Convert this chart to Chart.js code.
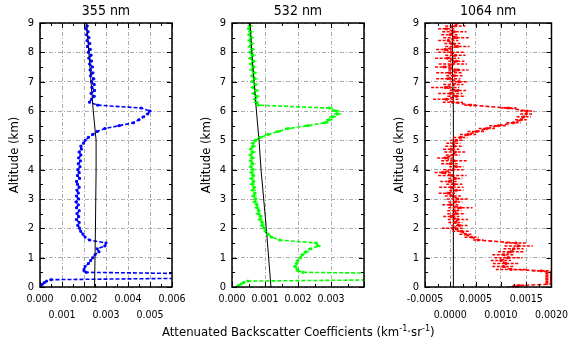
<!DOCTYPE html>
<html lang="en">
<head>
<meta charset="UTF-8">
<title>Attenuated backscatter profiles</title>
<script src="https://cdn.jsdelivr.net/npm/chart.js@4.4.1/dist/chart.umd.min.js"></script>
<style>
  body { margin: 0; background: #fff; }
  #wrap { position: relative; width: 572px; height: 345px; font-family: "DejaVu Sans Condensed", "DejaVu Sans", sans-serif; }
  .panel { position: absolute; top: 0; height: 345px; }
  #xlabel { position: absolute; left: 162px; top: 323px; font-size: 13px; white-space: nowrap; color: #000; }
  #xlabel sup { font-size: 9px; }
</style>
</head>
<body>
<div id="wrap">
  <div class="panel" style="left:0px;width:192px"><canvas id="c355"></canvas></div>
  <div class="panel" style="left:192px;width:192px"><canvas id="c532"></canvas></div>
  <div class="panel" style="left:385px;width:187px"><canvas id="c1064"></canvas></div>
  <div id="xlabel">Attenuated Backscatter Coefficients (km<sup>-1</sup>·sr<sup>-1</sup>)</div>
</div>
<script>
// altitude levels (km)
var altKm = [0, 0.05, 0.1, 0.15, 0.2, 0.25, 0.3, 0.35, 0.4, 0.45, 0.5, 0.55,
  0.6, 0.7, 0.8, 0.9, 1.0, 1.1, 1.2, 1.3, 1.4, 1.5, 1.6, 1.7, 1.8, 1.9,
  2.0, 2.1, 2.2, 2.3, 2.4, 2.5, 2.6, 2.7, 2.8, 2.9, 3.0, 3.1, 3.2, 3.3, 3.4, 3.5, 3.6, 3.7, 3.8, 3.9,
  4.0, 4.1, 4.2, 4.3, 4.4, 4.5, 4.6, 4.7, 4.8, 4.9, 5.0, 5.1, 5.2, 5.3, 5.4, 5.5, 5.6, 5.7, 5.8, 5.9,
  6.0, 6.1, 6.2, 6.3, 6.4, 6.5, 6.6, 6.7, 6.8, 6.9, 7.0, 7.1, 7.2, 7.3, 7.4, 7.5, 7.6, 7.7, 7.8, 7.9,
  8.0, 8.1, 8.2, 8.3, 8.4, 8.5, 8.6, 8.7, 8.8, 8.9, 9.0];

// backscatter, in units of 1e-3 km-1 sr-1
var b355 = [0.00, 0.05, 0.12, 0.20, 0.30, 0.50, 7.00, 7.80, 8.00, 7.50, 2.10, 2.00,
  2.00, 2.05, 2.20, 2.30, 2.40, 2.50, 2.68, 2.60, 2.95, 3.00, 2.25, 2.05, 1.95, 1.85,
  1.80, 1.72, 1.78, 1.66, 1.76, 1.68, 1.78, 1.66, 1.74, 1.64, 1.76, 1.66, 1.74, 1.68, 1.78, 1.70, 1.66, 1.80, 1.70, 1.78,
  1.72, 1.82, 1.74, 1.84, 1.76, 1.86, 1.78, 1.88, 1.86, 1.98, 2.05, 2.20, 2.40, 2.60, 2.95, 3.60, 4.25, 4.50, 4.70, 4.90,
  5.00, 4.60, 2.62, 2.25, 2.34, 2.46, 2.32, 2.48, 2.36, 2.46, 2.34, 2.44, 2.30, 2.40, 2.28, 2.38, 2.26, 2.34, 2.22, 2.32,
  2.20, 2.28, 2.16, 2.26, 2.14, 2.22, 2.12, 2.18, 2.08, 2.14, 2.06];

var b532 = [0.15, 0.20, 0.28, 0.35, 0.48, 5.00, 5.50, 5.80, 6.00, 5.80, 2.15, 2.00,
  1.98, 1.92, 1.96, 2.00, 2.08, 2.14, 2.25, 2.38, 2.62, 2.55, 1.45, 1.20, 1.10, 1.02,
  0.98, 0.92, 0.92, 0.86, 0.88, 0.80, 0.82, 0.76, 0.76, 0.70, 0.72, 0.66, 0.70, 0.64, 0.68, 0.62, 0.66, 0.60, 0.65, 0.60,
  0.64, 0.58, 0.63, 0.58, 0.62, 0.57, 0.64, 0.58, 0.65, 0.64, 0.72, 0.86, 1.10, 1.40, 1.70, 2.30, 2.82, 2.95, 3.05, 3.20,
  3.15, 2.95, 0.80, 0.74, 0.70, 0.76, 0.66, 0.74, 0.64, 0.72, 0.62, 0.70, 0.62, 0.68, 0.60, 0.66, 0.58, 0.66, 0.56, 0.64,
  0.56, 0.62, 0.55, 0.60, 0.54, 0.59, 0.53, 0.57, 0.52, 0.55, 0.52];

var b1064 = [1.25, 1.35, 2.00, 2.00, 2.00, 2.00, 2.00, 2.00, 2.00, 2.00, 2.00, 1.80,
  1.20, 1.05, 1.10, 1.00, 1.15, 1.05, 1.20, 1.25, 1.35, 1.30, 0.55, 0.42, 0.30, 0.22,
  0.05, 0.18, 0.10, 0.15, 0.02, 0.12, 0.08, 0.20, 0.00, 0.10, 0.15, 0.05, -0.05, 0.12, 0.02, 0.08, -0.02, 0.10, 0.04, -0.15,
  0.06, 0.12, 0.00, 0.08, -0.10, 0.05, 0.10, 0.02, 0.08, 0.06, 0.12, 0.20, 0.35, 0.52, 0.72, 0.95, 1.25, 1.40, 1.45, 1.50,
  1.52, 1.15, 0.40, 0.05, -0.08, 0.12, 0.00, 0.15, -0.10, 0.06, 0.18, -0.04, 0.08, -0.02, 0.16, -0.12, 0.05, 0.12, -0.06, 0.10,
  0.02, -0.10, 0.14, 0.04, -0.04, 0.12, 0.00, 0.08, -0.08, 0.10, 0.14];

// horizontal errors (same units)
var e355 = [0.02, 0.02, 0.02, 0.02, 0.02, 0.03, 0.03, 0.03, 0.03, 0.03, 0.04, 0.04,
  0.04, 0.05, 0.04, 0.05, 0.04, 0.05, 0.06, 0.05, 0.06, 0.05, 0.04, 0.05, 0.04, 0.05,
  0.05, 0.06, 0.05, 0.06, 0.05, 0.06, 0.05, 0.06, 0.05, 0.06, 0.05, 0.06, 0.05, 0.06, 0.05, 0.06, 0.05, 0.06, 0.05, 0.06,
  0.06, 0.05, 0.06, 0.05, 0.06, 0.05, 0.06, 0.05, 0.06, 0.05, 0.05, 0.06, 0.06, 0.07, 0.07, 0.08, 0.08, 0.09, 0.08, 0.09,
  0.09, 0.08, 0.06, 0.07, 0.06, 0.07, 0.06, 0.07, 0.06, 0.07, 0.06, 0.07, 0.06, 0.07, 0.06, 0.07, 0.06, 0.07, 0.06, 0.07,
  0.06, 0.07, 0.06, 0.07, 0.06, 0.07, 0.06, 0.07, 0.06, 0.07, 0.06];

var e532 = [0.02, 0.02, 0.02, 0.03, 0.03, 0.03, 0.03, 0.03, 0.03, 0.03, 0.04, 0.05,
  0.06, 0.07, 0.06, 0.07, 0.06, 0.07, 0.08, 0.07, 0.08, 0.07, 0.06, 0.06, 0.07, 0.06,
  0.07, 0.08, 0.07, 0.08, 0.07, 0.08, 0.07, 0.08, 0.07, 0.08, 0.07, 0.08, 0.07, 0.08, 0.07, 0.08, 0.07, 0.08, 0.07, 0.08,
  0.08, 0.07, 0.08, 0.07, 0.08, 0.07, 0.08, 0.07, 0.08, 0.07, 0.07, 0.08, 0.08, 0.09, 0.09, 0.10, 0.10, 0.10, 0.10, 0.11,
  0.11, 0.10, 0.07, 0.08, 0.07, 0.08, 0.07, 0.08, 0.07, 0.08, 0.07, 0.08, 0.07, 0.08, 0.07, 0.08, 0.07, 0.08, 0.07, 0.08,
  0.07, 0.08, 0.07, 0.08, 0.07, 0.08, 0.07, 0.08, 0.07, 0.08, 0.07];

var e1064 = [0.10, 0.12, 0.12, 0.12, 0.12, 0.12, 0.12, 0.12, 0.12, 0.12, 0.12, 0.18,
  0.30, 0.22, 0.26, 0.20, 0.28, 0.22, 0.26, 0.20, 0.28, 0.22, 0.10, 0.14, 0.12, 0.18,
  0.22, 0.16, 0.14, 0.20, 0.16, 0.18, 0.14, 0.24, 0.16, 0.14, 0.22, 0.16, 0.18, 0.14, 0.24, 0.16, 0.18, 0.14, 0.28, 0.16,
  0.20, 0.14, 0.18, 0.26, 0.16, 0.14, 0.22, 0.16, 0.18, 0.14, 0.12, 0.14, 0.16, 0.18, 0.16, 0.18, 0.14, 0.12, 0.14, 0.12,
  0.14, 0.16, 0.12, 0.20, 0.26, 0.18, 0.24, 0.16, 0.28, 0.20, 0.18, 0.24, 0.16, 0.26, 0.20, 0.18, 0.28, 0.16, 0.24, 0.20,
  0.26, 0.18, 0.24, 0.16, 0.20, 0.26, 0.18, 0.24, 0.16, 0.20, 0.18];

// molecular reference lines: altitude / value pairs
var molAlt = [0, 2, 4, 5, 6, 7, 8, 9];
var mol355 = [2.48, 2.52, 2.55, 2.55, 2.42, 2.32, 2.22, 2.12];
var mol532 = [1.18, 1.04, 0.88, 0.82, 0.74, 0.67, 0.60, 0.55];
var mol1064 = [0.07, 0.066, 0.062, 0.06, 0.055, 0.05, 0.045, 0.04];

var FONT = '"DejaVu Sans Condensed", "DejaVu Sans", sans-serif';

function pts(alts, vals) {
    return vals.map(function (v, i) { return { x: v, y: alts[i] }; });
}

// error bars, frame, inward ticks and panel title
var framePlugin = {
    id: 'frame',
    afterDatasetsDraw: function (chart) {
        var ctx = chart.ctx, a = chart.chartArea, x = chart.scales.x, y = chart.scales.y;
        ctx.save();
        ctx.beginPath();
        ctx.rect(a.left, a.top, a.right - a.left, a.bottom - a.top);
        ctx.clip();
        chart.data.datasets.forEach(function (ds) {
            if (!ds.xErr) return;
            ctx.strokeStyle = ds.borderColor;
            ctx.lineWidth = 1.5;
            ctx.setLineDash([3, 1.5]);
            ds.data.forEach(function (p, i) {
                var e = ds.xErr[i], py = y.getPixelForValue(p.y);
                ctx.beginPath();
                ctx.moveTo(x.getPixelForValue(p.x - e), py);
                ctx.lineTo(x.getPixelForValue(p.x + e), py);
                ctx.stroke();
            });
        });
        ctx.restore();
    },
    afterDraw: function (chart, args, opts) {
        var ctx = chart.ctx, a = chart.chartArea, x = chart.scales.x, y = chart.scales.y;
        ctx.save();
        ctx.strokeStyle = '#000';
        ctx.lineWidth = 1;
        var sx = x.options.ticks.stepSize / 2, i, v, px, len;
        for (i = 0, v = x.min; v <= x.max + 1e-9; i++, v = x.min + i * sx) {
            px = Math.round(x.getPixelForValue(v)) + 0.5;
            len = i % 2 === 0 ? 5 : 3;
            ctx.beginPath();
            ctx.moveTo(px, a.bottom); ctx.lineTo(px, a.bottom - len);
            ctx.moveTo(px, a.top); ctx.lineTo(px, a.top + len);
            ctx.stroke();
        }
        for (i = 0, v = y.min; v <= y.max + 1e-9; i++, v = y.min + i * 0.5) {
            px = Math.round(y.getPixelForValue(v)) + 0.5;
            len = i % 2 === 0 ? 5 : 3;
            ctx.beginPath();
            ctx.moveTo(a.left, px); ctx.lineTo(a.left + len, px);
            ctx.moveTo(a.right, px); ctx.lineTo(a.right - len, px);
            ctx.stroke();
        }
        ctx.lineWidth = 1.5;
        ctx.strokeRect(a.left, a.top, a.right - a.left, a.bottom - a.top);
        // title centred over the plot box
        ctx.fillStyle = '#000';
        ctx.font = '14px ' + FONT;
        ctx.textAlign = 'center';
        ctx.textBaseline = 'middle';
        ctx.fillText(opts.title, (a.left + a.right) / 2, 11);
        ctx.restore();
    }
};

function makePanel(id, title, vals, color, molVals, xmin, xmax, step, labelFn, err, rightPad) {
    return new Chart(document.getElementById(id), {
        type: 'scatter',
        data: {
            datasets: [{
                data: pts(molAlt, molVals),
                showLine: true,
                borderColor: '#000',
                borderWidth: 1,
                pointRadius: 0
            }, {
                data: pts(altKm, vals),
                xErr: err,
                showLine: true,
                borderColor: color,
                backgroundColor: color,
                borderWidth: 1.6,
                borderDash: [4, 2],
                pointStyle: 'rect',
                pointRadius: 1.4,
                pointBorderWidth: 0.8
            }]
        },
        options: {
            responsive: true,
            maintainAspectRatio: false,
            animation: false,
            layout: { padding: { left: 0, right: rightPad, top: 23, bottom: 0 } },
            plugins: {
                legend: { display: false },
                tooltip: { enabled: false },
                title: { display: false },
                frame: { title: title }
            },
            scales: {
                x: {
                    type: 'linear',
                    min: xmin,
                    max: xmax,
                    afterFit: function (s) { s.height = 58; },
                    grid: { color: '#aaa', lineWidth: 1, drawTicks: false },
                    border: { display: false, dash: [4, 2, 1, 2] },
                    ticks: {
                        stepSize: step,
                        autoSkip: false,
                        maxRotation: 0,
                        minRotation: 0,
                        padding: 4,
                        color: '#000',
                        font: { family: FONT, size: 10.5, lineHeight: 1.55 },
                        callback: labelFn
                    }
                },
                y: {
                    type: 'linear',
                    min: 0,
                    max: 9,
                    afterFit: function (s) { s.width = 40; },
                    grid: { color: '#aaa', lineWidth: 1, drawTicks: false },
                    border: { display: false, dash: [4, 2, 1, 2] },
                    title: {
                        display: true,
                        text: 'Altitude (km)',
                        color: '#000',
                        font: { family: FONT, size: 13 },
                        padding: { top: 7, bottom: 0 }
                    },
                    ticks: {
                        stepSize: 1,
                        padding: 6,
                        color: '#000',
                        font: { family: FONT, size: 11 }
                    }
                }
            }
        },
        plugins: [framePlugin]
    });
}

// staggered labels: even ticks on the first row, odd ticks on the second
function stagger(digits) {
    return function (value, index) {
        var s = (value / 1000).toFixed(digits);
        return index % 2 === 0 ? [s, ''] : ['', s];
    };
}

makePanel('c355', '355 nm', b355, '#0000ff', mol355, 0, 6, 1, stagger(3), e355, 20);
makePanel('c532', '532 nm', b532, '#00ff00', mol532, 0, 4, 1, function (value) {
    return value >= 4 ? '' : (value / 1000).toFixed(3);
}, e532, 20);
makePanel('c1064', '1064 nm', b1064, '#ff0000', mol1064, -0.5, 2, 0.5, stagger(4), e1064, 15);
</script>
</body>
</html>
